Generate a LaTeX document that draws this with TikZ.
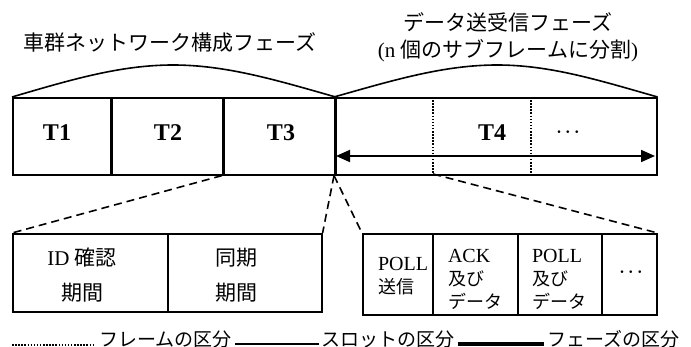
\documentclass[tikz,border=0pt]{standalone}
\usepackage{fontspec}
\setmainfont{Liberation Serif}
\newfontfamily\cjk{Noto Sans CJK JP}
\newcommand\jpt[1]{{\cjk #1}}
\usetikzlibrary{arrows.meta}
\begin{document}
\begin{tikzpicture}[x=1pt,y=-1pt,
  cell/.style={draw, line width=1.6pt, inner sep=0pt, anchor=north west},
  tlabel/.style={font=\fontsize{24}{28}\selectfont\bfseries, inner sep=0pt},
  boxtext/.style={font=\fontsize{21}{35}\selectfont, align=center, inner sep=0pt},
  smalltext/.style={font=\fontsize{20}{23}\selectfont, align=left, inner sep=0pt},
  title/.style={font=\fontsize{21}{27}\selectfont, align=center, inner sep=0pt},
  legtext/.style={font=\fontsize{19}{23}\selectfont, anchor=west, inner sep=0pt},
  dotstext/.style={font=\fontsize{17}{20}\selectfont\boldmath, inner sep=0pt},
  slotline/.style={line width=2.4pt},
  phaseline/.style={line width=3.6pt},
  frameline/.style={line width=1.5pt, dash pattern=on 1.5pt off 1.6pt},
  bump/.style={line width=1.6pt},
  zoomline/.style={line width=1.6pt, dash pattern=on 8pt off 5pt},
  span/.style={line width=1.8pt, {Triangle[length=14pt,width=12pt]}-{Triangle[length=14pt,width=12pt]}}
]
\useasboundingbox (0,0) rectangle (691,347);

% titles
\node[title] (title1) at (170,43) {\jpt{車群ネットワーク構成フェーズ}};
\node[title] (title2) at (508,37) {\jpt{データ送受信フェーズ}\\(n \jpt{個のサブフレームに分割})};

% top row
\node[cell, minimum width=98pt, minimum height=77pt] (t1) at (12,97) {};
\node[cell, minimum width=112pt, minimum height=77pt] (t2) at (110,97) {};
\node[cell, minimum width=112pt, minimum height=77pt] (t3) at (222,97) {};
\node[cell, minimum width=322pt, minimum height=77pt] (t4) at (334,97) {};
\node[tlabel] (t1l) at (57,133) {T1};
\node[tlabel] (t2l) at (168,133) {T2};
\node[tlabel] (t3l) at (281,133) {T3};
\node[tlabel] (t4l) at (492,133) {T4};
\node[dotstext] (t4dots) at (568,132) {$\cdots$};

\draw[slotline] (t1.north east) -- (t1.south east);
\draw[slotline] (t2.north east) -- (t2.south east);
\draw[phaseline] (t3.north east) -- (t3.south east);

\coordinate (f1t) at (433,97);
\coordinate (f1b) at (433,174);
\coordinate (f2t) at (531,97);
\coordinate (f2b) at (531,174);
\draw[frameline] (f1t) -- (f1b);
\draw[frameline] (f2t) -- (f2b);

\coordinate (a1) at (336,156);
\coordinate (a2) at (655,156);
\draw[span] (a1) -- (a2);

% bumps
\draw[bump] (t1.north west) .. controls (70,80) and (120,65) .. (173,65)
  .. controls (226,65) and (276,80) .. (t3.north east);
\draw[bump] (t4.north west) .. controls (394,80) and (444,65) .. (497,65)
  .. controls (550,65) and (598,80) .. (t4.north east);

% bottom left
\node[cell, minimum width=155pt, minimum height=78pt] (idc) at (12,233) {};
\node[cell, minimum width=154pt, minimum height=78pt] (sync) at (167,233) {};
\node[boxtext] (idcl) at (82,275) {ID \jpt{確認}\\\jpt{期間}};
\node[boxtext] (syncl) at (236,275) {\jpt{同期}\\\jpt{期間}};

% bottom right
\node[cell, minimum width=70pt, minimum height=81pt] (p1) at (362,233) {};
\node[cell, minimum width=85pt, minimum height=81pt] (p2) at (432,233) {};
\node[cell, minimum width=84pt, minimum height=81pt] (p3) at (517,233) {};
\node[cell, minimum width=55pt, minimum height=81pt] (p4) at (601,233) {};
\node[smalltext] (p1l) at (403,276) {POLL\\{\cjk\fontsize{18}{23}\selectfont 送信}};
\node[smalltext] (p2l) at (475,279) {ACK\\{\cjk\fontsize{18}{23}\selectfont 及び}\\{\cjk\fontsize{18}{23}\selectfont データ}};
\node[smalltext] (p3l) at (559,279) {POLL\\{\cjk\fontsize{18}{23}\selectfont 及び}\\{\cjk\fontsize{18}{23}\selectfont データ}};
\node[dotstext] (p4l) at (631,272) {$\cdots$};

% zoom connectors
\draw[zoomline] (t3.south west) -- (idc.north west);
\draw[zoomline] (t4.south west) -- (sync.north east);
\draw[zoomline] (t4.south west) -- (p1.north west);
\draw[zoomline] (f1b) -- (p4.north east);

% legend
\coordinate (l1a) at (12,345);
\coordinate (l1b) at (95,345);
\coordinate (l2a) at (235,344);
\coordinate (l2b) at (319,344);
\coordinate (l3a) at (458,344);
\coordinate (l3b) at (544,344);
\draw[frameline] (l1a) -- (l1b);
\node[legtext] (leg1) at (99,339) {\jpt{フレームの区分}};
\draw[line width=2pt] (l2a) -- (l2b);
\node[legtext] (leg2) at (321,339) {\jpt{スロットの区分}};
\draw[line width=4pt] (l3a) -- (l3b);
\node[legtext] (leg3) at (547,339) {\jpt{フェーズの区分}};
\end{tikzpicture}
\end{document}
